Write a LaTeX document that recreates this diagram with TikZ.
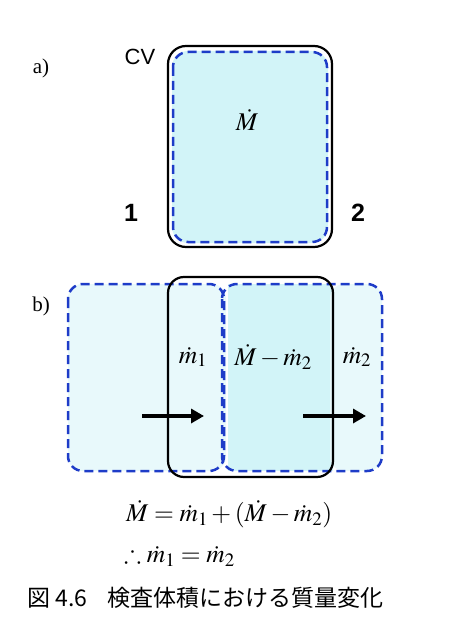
\documentclass[tikz,border=0pt]{standalone}
\usepackage{amssymb}
\usepackage{mathptmx}
\usepackage{fontspec}
\setmainfont{Liberation Serif}
\newfontfamily\arialf{Liberation Sans}
\newfontfamily\cjk{Noto Sans CJK JP}
\usetikzlibrary{arrows.meta}
\definecolor{cvfill}{HTML}{D2F4F8}
\definecolor{cvlight}{HTML}{E8F9FB}
\definecolor{dashblue}{HTML}{1E3CC8}
\tikzset{
  cvbox/.style={draw=black, line width=2.2pt, rounded corners=18pt},
  bluebox/.style={draw=dashblue, line width=2.5pt, dash pattern=on 9pt off 5pt, rounded corners=15pt},
  flowarrow/.style={line width=3.5pt, -{Triangle[length=13pt,width=14pt]}},
  lbl/.style={inner sep=0pt, font=\fontsize{21}{23}\selectfont},
  num/.style={inner sep=0pt, font=\arialf\bfseries\fontsize{25}{27}\selectfont},
  mth/.style={inner sep=0pt, font=\fontsize{25.5}{28}\selectfont}
}
\begin{document}
\begin{tikzpicture}[x=1pt,y=-1pt]
\useasboundingbox (0,0) rectangle (475,639);
% ---- part a
\node[lbl] (la) at (41,68) {a)};
\node[inner sep=0pt, font=\arialf\fontsize{22}{24}\selectfont] (cv) at (140,57) {CV};
\fill[cvfill, rounded corners=16pt] (172,51) rectangle (328,243);
\draw[cvbox] (168,46) rectangle (332,247);
\draw[bluebox] (173,52) rectangle (327,242);
\node[mth] (Ma) at (247,120) {$\dot M$};
\node[num] (n1) at (131,213) {1};
\node[num] (n2) at (358,213) {2};
% ---- part b
\node[lbl] (lb) at (41,306) {b)};
\fill[cvlight, rounded corners=14pt] (68,284) rectangle (226,471);
\fill[cvfill] (228,284) rectangle (333,471);
\fill[cvlight, rounded corners=14pt] (330,284) rectangle (382,471);
\draw[bluebox] (68,284) rectangle (224,471);
\draw[bluebox] (222,284) rectangle (382,471);
\draw[cvbox, rounded corners=16pt] (168,277) rectangle (333,477);
\coordinate (a1s) at (142,416);
\coordinate (a1e) at (204,416);
\coordinate (a2s) at (303,416);
\coordinate (a2e) at (366,416);
\draw[flowarrow] (a1s) -- (a1e);
\draw[flowarrow] (a2s) -- (a2e);
\node[mth] (m1) at (193,357) {$\dot m_1$};
\node[mth] (Mm) at (273,357) {$\dot M-\dot m_2$};
\node[mth] (m2) at (357,357) {$\dot m_2$};
% ---- equations and caption
\node[mth, anchor=west] (eq1) at (126,514) {$\dot M=\dot m_1+(\dot M-\dot m_2)$};
\node[mth, anchor=west] (eq2) at (124,556) {$\therefore \dot m_1=\dot m_2$};
\node[inner sep=0pt, anchor=west, font=\fontsize{23}{25}\selectfont] (cap) at (27,598) {\cjk 図 4.6\hspace{0.9em}検査体積における質量変化};
\end{tikzpicture}
\end{document}
